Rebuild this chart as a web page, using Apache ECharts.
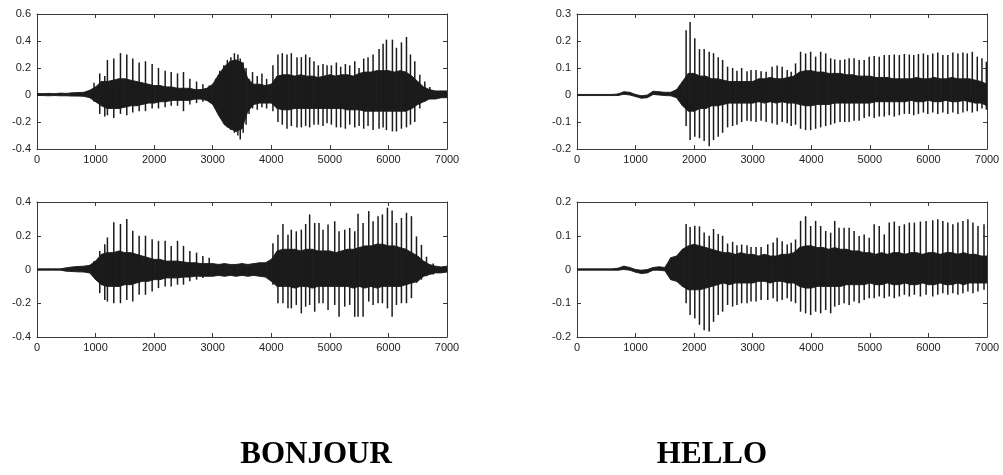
<!DOCTYPE html>
<html><head><meta charset="utf-8">
<script src="https://cdn.jsdelivr.net/npm/echarts@6/dist/echarts.min.js"></script>
<style>html,body{margin:0;padding:0;background:#fff}#c{width:1003px;height:475px}</style>
</head><body><div id="c"></div>
<script>
// ---------- DATA ----------
const titles = ['BONJOUR', 'HELLO'];
const xTickMax = 7000;
// envelope sample positions (every 100 samples, 0..7000)
const sampleIdx = Array.from({length: 71}, (_, i) => i * 100);

// Bonjour (top) : dense core envelope
const bonjour1Up = [.012,.01,.012,.01,.014,.012,.016,.018,.02,.035,
  .06,.1,.1,.11,.12,.12,.11,.1,.09,.08,
  .07,.07,.06,.06,.05,.05,.05,.04,.04,.05,
  .08,.15,.21,.25,.26,.24,.12,.08,.08,.07,
  .08,.14,.15,.15,.14,.15,.14,.14,.13,.14,
  .15,.14,.15,.15,.14,.16,.17,.17,.18,.18,
  .18,.17,.18,.17,.14,.1,.06,.04,.03,.03,.03];
const bonjour1Dn = [-.004,-.004,-.006,-.004,-.006,-.006,-.008,-.008,-.01,-.02,
  -.05,-.08,-.1,-.1,-.1,-.09,-.08,-.08,-.07,-.06,
  -.06,-.05,-.05,-.04,-.04,-.04,-.04,-.03,-.03,-.04,
  -.07,-.15,-.22,-.25,-.27,-.25,-.12,-.07,-.06,-.06,
  -.06,-.1,-.11,-.11,-.1,-.1,-.1,-.1,-.1,-.1,
  -.1,-.1,-.1,-.11,-.11,-.11,-.12,-.12,-.12,-.12,
  -.12,-.12,-.12,-.12,-.1,-.07,-.05,-.03,-.03,-.02,-.02];
// Bonjour (top) : pitch spikes
const bonjour1SpikeX = [974,1071,1157,1202,1311,1425,1533,1635,1744,1852,
  1966,2074,2188,2291,2399,2501,2610,2724,2832,2940,
  3050,3120,3190,3250,3310,3370,3430,3470,3520,3570,
  3620,3680,3760,3840,3920,
  4028,4114,4188,4268,4342,4439,4513,4587,4655,4729,
  4803,4883,4952,5026,5111,5185,5265,5339,5425,5499,
  5578,5652,5738,5840,5909,5966,6068,6137,6222,6308,
  6376,6450,6536,6621,6707];
const bonjour1SpikeUp = [.09,.16,.14,.26,.27,.31,.30,.27,.24,.25,
  .23,.20,.18,.17,.16,.17,.12,.10,.08,.07,
  .12,.18,.22,.26,.28,.31,.3,.27,.24,.2,
  .12,.17,.14,.16,.12,
  .22,.3,.31,.3,.31,.28,.28,.3,.28,.25,
  .22,.23,.22,.22,.24,.21,.23,.22,.25,.2,
  .27,.28,.3,.34,.38,.41,.41,.35,.39,.43,
  .3,.25,.15,.1,.06];
const bonjour1SpikeDn = [-.05,-.14,-.16,-.15,-.17,-.14,-.15,-.13,-.12,-.12,
  -.1,-.1,-.09,-.08,-.08,-.12,-.07,-.06,-.05,-.04,
  -.1,-.16,-.2,-.24,-.26,-.28,-.3,-.33,-.28,-.22,
  -.14,-.1,-.11,-.09,-.1,
  -.12,-.2,-.22,-.25,-.23,-.24,-.24,-.23,-.24,-.22,
  -.22,-.23,-.21,-.22,-.24,-.24,-.25,-.22,-.24,-.23,
  -.25,-.23,-.26,-.25,-.24,-.26,-.27,-.27,-.25,-.24,
  -.22,-.2,-.1,-.05,-.03];

// Bonjour (bottom)
const bonjour2Up = [.004,.004,.004,.004,.004,.01,.015,.018,.02,.025,
  .05,.09,.1,.1,.11,.1,.1,.09,.08,.07,
  .06,.06,.05,.05,.05,.045,.04,.04,.035,.035,
  .035,.03,.035,.03,.03,.035,.03,.035,.04,.04,
  .06,.11,.12,.12,.12,.11,.12,.12,.11,.11,
  .11,.1,.11,.12,.12,.13,.14,.14,.15,.15,
  .14,.14,.13,.12,.1,.08,.05,.03,.02,.015,.02];
const bonjour2Dn = [-.004,-.004,-.004,-.004,-.004,-.01,-.012,-.014,-.015,-.02,
  -.06,-.09,-.1,-.1,-.1,-.09,-.09,-.08,-.07,-.07,
  -.06,-.06,-.05,-.05,-.05,-.045,-.045,-.04,-.04,-.04,
  -.04,-.035,-.04,-.035,-.04,-.035,-.04,-.035,-.04,-.045,
  -.07,-.1,-.1,-.1,-.11,-.1,-.1,-.11,-.1,-.1,
  -.1,-.1,-.1,-.1,-.11,-.1,-.11,-.1,-.11,-.1,
  -.1,-.1,-.1,-.09,-.08,-.07,-.04,-.03,-.02,-.02,-.015];
const bonjour2SpikeX = [974,1071,1157,1202,1311,1425,1533,1635,1744,1852,
  1966,2074,2188,2291,2399,2501,2610,2724,2832,2940,
  4028,4114,4199,4285,4342,4427,4513,4587,4655,4741,
  4815,4883,4969,5083,5157,5254,5339,5425,5481,5567,
  5664,5738,5823,5897,5983,6063,6137,6222,6308,6393,
  6479,6564,6650,6764];
const bonjour2SpikeUp = [.05,.11,.15,.19,.28,.27,.3,.23,.2,.2,
  .18,.17,.17,.14,.17,.14,.11,.1,.08,.07,
  .156,.206,.27,.206,.236,.226,.236,.27,.326,.276,
  .276,.236,.266,.286,.226,.236,.246,.226,.33,.276,
  .346,.286,.316,.326,.366,.35,.276,.306,.336,.316,
  .196,.146,.076,.036];
const bonjour2SpikeDn = [-.04,-.14,-.18,-.19,-.2,-.2,-.18,-.19,-.15,-.15,
  -.13,-.11,-.1,-.1,-.09,-.09,-.07,-.06,-.05,-.04,
  -.09,-.2,-.2,-.23,-.23,-.21,-.26,-.22,-.21,-.25,
  -.2,-.2,-.24,-.21,-.28,-.22,-.21,-.28,-.28,-.28,
  -.19,-.21,-.2,-.2,-.23,-.28,-.21,-.2,-.2,-.17,
  -.08,-.06,-.04,-.03];

// Hello (top)
const hello1Up = [.002,.002,.002,.002,.002,.002,.002,.004,.012,.01,
  .002,-.003,0,.014,.012,.01,.01,.02,.05,.08,
  .08,.07,.07,.06,.06,.055,.05,.05,.05,.05,
  .05,.06,.06,.065,.06,.06,.065,.07,.085,.09,
  .09,.085,.085,.08,.08,.08,.075,.075,.07,.07,
  .07,.065,.065,.065,.06,.06,.06,.06,.065,.06,
  .06,.065,.06,.06,.065,.06,.06,.06,.055,.05,.04];
const hello1Dn = [-.002,-.002,-.002,-.002,-.002,-.002,-.002,-.002,.003,0,
  -.006,-.012,-.01,.002,0,-.002,-.003,-.01,-.04,-.06,
  -.06,-.05,-.05,-.04,-.04,-.035,-.03,-.03,-.03,-.03,
  -.03,-.025,-.03,-.025,-.03,-.025,-.03,-.03,-.035,-.04,
  -.04,-.035,-.035,-.035,-.03,-.03,-.03,-.03,-.03,-.03,
  -.03,-.025,-.025,-.025,-.025,-.025,-.025,-.02,-.025,-.025,
  -.02,-.025,-.025,-.02,-.025,-.025,-.02,-.025,-.03,-.03,-.04];
const hello1SpikeX = [1863,1931,2011,2091,2171,2257,2331,2411,2486,2571,
  2657,2731,2811,2903,2971,3057,3143,3229,3331,3417,
  3503,3589,3657,3731,3817,3903,3989,4074,4160,4246,
  4331,4400,4491,4571,4646,4731,4817,4903,4989,5074,
  5160,5246,5331,5417,5503,5589,5674,5749,5829,5914,
  5989,6074,6160,6246,6331,6417,6503,6589,6663,6749,
  6834,6914,6989];
const hello1SpikeUp = [.24,.27,.21,.17,.17,.16,.155,.14,.13,.105,
  .1,.09,.1,.088,.093,.093,.088,.086,.105,.109,
  .105,.093,.086,.117,.16,.154,.16,.142,.16,.154,
  .136,.132,.13,.132,.136,.136,.13,.13,.142,.144,
  .142,.148,.148,.15,.148,.152,.15,.148,.152,.154,
  .148,.154,.157,.148,.148,.157,.154,.157,.154,.16,
  .142,.136,.123];
const hello1SpikeDn = [-.115,-.167,-.155,-.16,-.17,-.19,-.167,-.155,-.14,-.12,
  -.115,-.11,-.1,-.095,-.097,-.1,-.095,-.1,-.105,-.11,
  -.1,-.105,-.115,-.11,-.125,-.13,-.13,-.125,-.12,-.115,
  -.11,-.105,-.1,-.1,-.1,-.095,-.095,-.085,-.08,-.085,
  -.08,-.08,-.075,-.08,-.075,-.07,-.07,-.075,-.07,-.065,
  -.07,-.065,-.07,-.065,-.07,-.065,-.07,-.065,-.06,-.065,
  -.06,-.05,-.055];

// Hello (bottom)
const hello2Up = [.002,.002,.002,.002,.002,.002,.002,.004,.01,.006,
  0,-.002,0,.006,.008,.006,.035,.04,.06,.07,
  .075,.07,.065,.06,.055,.05,.05,.045,.05,.045,
  .045,.04,.045,.04,.04,.045,.045,.05,.065,.07,
  .07,.065,.065,.06,.065,.06,.06,.055,.055,.05,
  .05,.045,.05,.045,.05,.05,.045,.05,.05,.045,
  .05,.05,.045,.05,.05,.045,.05,.045,.045,.04,.04];
const hello2Dn = [-.002,-.002,-.002,-.002,-.002,-.002,-.002,-.002,0,-.002,
  -.008,-.012,-.01,-.002,-.002,-.004,-.03,-.035,-.05,-.06,
  -.06,-.06,-.055,-.05,-.045,-.04,-.045,-.04,-.04,-.04,
  -.04,-.035,-.035,-.04,-.035,-.035,-.04,-.04,-.05,-.055,
  -.055,-.05,-.05,-.05,-.05,-.05,-.045,-.045,-.045,-.045,
  -.04,-.045,-.045,-.04,-.045,-.045,-.04,-.045,-.045,-.04,
  -.045,-.045,-.04,-.045,-.045,-.04,-.045,-.04,-.04,-.04,-.04];
const hello2SpikeX = [1863,1931,2011,2091,2171,2257,2331,2411,2486,2571,
  2657,2731,2811,2903,2971,3057,3143,3257,3349,3417,
  3503,3589,3657,3731,3817,3903,3989,4074,4160,4246,
  4331,4400,4474,4560,4646,4731,4817,4903,4989,5074,
  5160,5246,5331,5417,5503,5589,5674,5760,5863,5960,
  6074,6160,6246,6331,6417,6503,6589,6674,6760,6846,
  6949];
const hello2SpikeUp = [.135,.126,.13,.128,.11,.1,.12,.105,.1,.077,
  .082,.072,.074,.072,.067,.067,.067,.075,.08,.094,
  .084,.074,.079,.089,.144,.158,.129,.144,.129,.114,
  .109,.144,.124,.124,.124,.114,.099,.104,.094,.134,
  .129,.104,.139,.142,.129,.134,.139,.139,.142,.144,
  .146,.149,.144,.139,.134,.139,.144,.149,.139,.129,
  .134];
const hello2SpikeDn = [-.1,-.135,-.145,-.164,-.18,-.184,-.155,-.135,-.125,-.105,
  -.11,-.105,-.1,-.1,-.095,-.095,-.09,-.09,-.085,-.095,
  -.09,-.085,-.095,-.1,-.125,-.13,-.135,-.125,-.13,-.12,
  -.13,-.11,-.105,-.1,-.105,-.095,-.1,-.09,-.085,-.085,
  -.08,-.085,-.08,-.085,-.08,-.075,-.08,-.075,-.08,-.075,
  -.08,-.075,-.07,-.075,-.07,-.075,-.07,-.065,-.07,-.065,
  -.06];

// y axis ranges [min, max, interval]
const yRanges = [[-0.4, 0.6, 0.2], [-0.4, 0.4, 0.2], [-0.2, 0.3, 0.1], [-0.2, 0.2, 0.1]];

// ---------- CHART ----------
const INK = '#1b1b1b';
const AX = '#3a3a3a';
const TXT = '#222';
const grids = [
  {left: 37, top: 14, width: 410, height: 135},
  {left: 37, top: 202, width: 410, height: 135},
  {left: 577, top: 14, width: 410, height: 135},
  {left: 577, top: 202, width: 410, height: 135}
];
const panels = [
  [bonjour1Up, bonjour1Dn, bonjour1SpikeX, bonjour1SpikeUp, bonjour1SpikeDn],
  [bonjour2Up, bonjour2Dn, bonjour2SpikeX, bonjour2SpikeUp, bonjour2SpikeDn],
  [hello1Up, hello1Dn, hello1SpikeX, hello1SpikeUp, hello1SpikeDn],
  [hello2Up, hello2Dn, hello2SpikeX, hello2SpikeUp, hello2SpikeDn]
];

const lbl = {color: TXT, fontSize: 11, fontFamily: 'Liberation Sans, Arial, sans-serif'};
const fmtX = v => String(Math.round(v));
const fmtY = v => String(+v.toFixed(2));
const xAxes = [], yAxes = [], series = [];
grids.forEach((g, i) => {
  const common = {
    gridIndex: i, type: 'value', splitLine: {show: false},
    axisLine: {show: true, onZero: false, lineStyle: {color: AX, width: 1}},
    axisTick: {show: true, inside: true, length: 4, lineStyle: {color: AX}}
  };
  xAxes.push(Object.assign({}, common, {position: 'bottom', min: 0, max: xTickMax, interval: 1000,
    axisLabel: Object.assign({margin: 5, formatter: fmtX}, lbl)}));
  yAxes.push(Object.assign({}, common, {position: 'left', min: yRanges[i][0], max: yRanges[i][1], interval: yRanges[i][2],
    axisLabel: Object.assign({margin: 6, formatter: fmtY}, lbl)}));
});
grids.forEach((g, i) => {
  const common = {
    gridIndex: i, type: 'value', splitLine: {show: false}, axisLabel: {show: false},
    axisLine: {show: true, onZero: false, lineStyle: {color: AX, width: 1}},
    axisTick: {show: true, inside: true, length: 4, lineStyle: {color: AX}}
  };
  xAxes.push(Object.assign({}, common, {position: 'top', min: 0, max: xTickMax, interval: 1000}));
  yAxes.push(Object.assign({}, common, {position: 'right', min: yRanges[i][0], max: yRanges[i][1], interval: yRanges[i][2]}));
});

panels.forEach((p, i) => {
  const [up, dn, sx, su, sd] = p;
  const n = Math.min(up.length, dn.length, sampleIdx.length);
  const band = [];
  for (let k = 0; k < n - 1; k++) band.push([sampleIdx[k], up[k], dn[k], sampleIdx[k + 1], up[k + 1], dn[k + 1]]);
  series.push({
    type: 'custom', xAxisIndex: i, yAxisIndex: i, clip: true, silent: true, animation: false,
    encode: {x: [0, 3], y: [1, 2, 4, 5]},
    renderItem: (params, api) => {
      const a = api.coord([api.value(0), api.value(1)]);
      const b = api.coord([api.value(3), api.value(4)]);
      const c = api.coord([api.value(3), api.value(5)]);
      const d = api.coord([api.value(0), api.value(2)]);
      return {type: 'polygon', shape: {points: [a, b, c, d]}, style: {fill: INK, stroke: INK, lineWidth: 0.9}};
    },
    data: band
  });
  const m = Math.min(sx.length, su.length, sd.length);
  const spikes = [];
  for (let k = 0; k < m; k++) spikes.push([sx[k], su[k], sd[k]]);
  series.push({
    type: 'custom', xAxisIndex: i, yAxisIndex: i, clip: true, silent: true, animation: false,
    encode: {x: 0, y: [1, 2]},
    renderItem: (params, api) => {
      const a = api.coord([api.value(0), api.value(1)]);
      const b = api.coord([api.value(0), api.value(2)]);
      return {type: 'line', shape: {x1: a[0], y1: a[1], x2: b[0], y2: b[1]}, style: {stroke: INK, lineWidth: 1.5}};
    },
    data: spikes
  });
});

const chart = echarts.init(document.getElementById('c'), null, {renderer: 'canvas'});
chart.setOption({
  animation: false,
  backgroundColor: '#fff',
  grid: grids,
  xAxis: xAxes,
  yAxis: yAxes,
  series: series,
  graphic: [
    {type: 'text', x: 316, y: 455, silent: true,
     style: {text: titles[0], font: 'bold 31px "Liberation Serif", "Times New Roman", serif', fill: '#000', textAlign: 'center', textVerticalAlign: 'middle'}},
    {type: 'text', x: 712, y: 455, silent: true,
     style: {text: titles[1], font: 'bold 31px "Liberation Serif", "Times New Roman", serif', fill: '#000', textAlign: 'center', textVerticalAlign: 'middle'}}
  ]
});
</script></body></html>
